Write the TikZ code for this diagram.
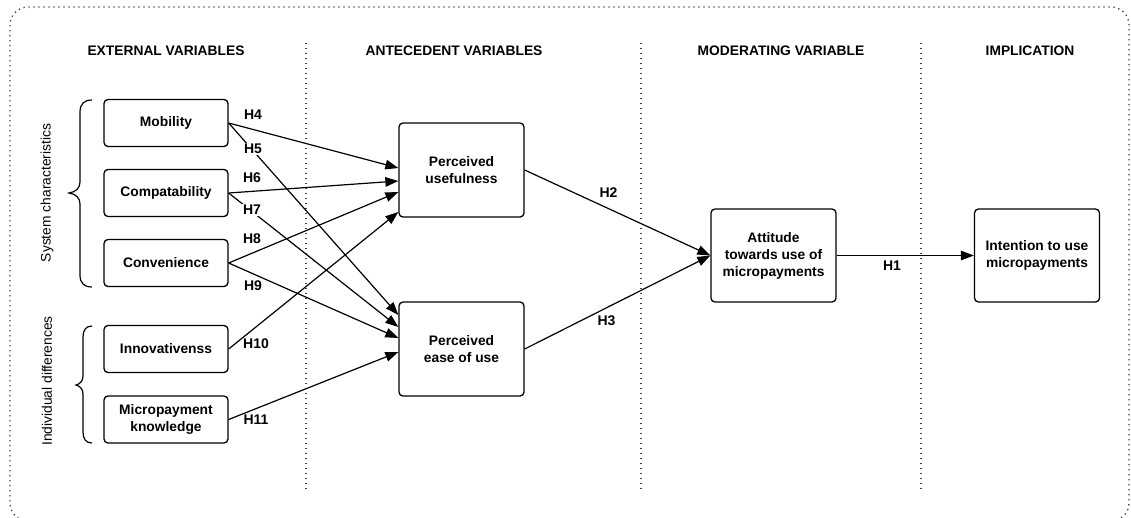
\documentclass[tikz,border=0pt]{standalone}
\usepackage{fontspec}
\setmainfont{Liberation Sans}
\usetikzlibrary{arrows.meta}
\begin{document}
\begin{tikzpicture}[x=1pt,y=-1pt,
  varbox/.style={draw, line width=1.3pt, rounded corners=4pt, align=center,
    inner sep=0pt, font=\bfseries\fontsize{13.8}{17}\selectfont},
  smallbox/.style={varbox, minimum width=124pt, minimum height=47pt},
  bigbox/.style={varbox, minimum width=125pt, minimum height=94pt},
  header/.style={font=\bfseries\fontsize{13.8}{15}\selectfont, inner sep=0pt},
  hyp/.style={font=\bfseries\fontsize{14}{15}\selectfont, inner sep=1pt},
  group/.style={font=\fontsize{13.8}{15}\selectfont, rotate=90, inner sep=0pt},
  link/.style={line width=1.2pt, -{Triangle[length=13pt,width=9.5pt]}},
  divider/.style={line width=1.3pt, black!75, dash pattern=on 1.3pt off 3.7pt},
  brace/.style={line width=1.2pt}]
\clip (0,0) rectangle (1131,517);

% outer frame and column dividers
\draw[divider, rounded corners=18pt] (10,7) rectangle (1129,521);
\draw[divider] (306,43) -- (306,492);
\draw[divider] (641,43) -- (641,492);
\draw[divider] (921,43) -- (921,492);

% column headers
\node[header] (hext) at (166,51) {EXTERNAL VARIABLES};
\node[header] (hant) at (454,51) {ANTECEDENT VARIABLES};
\node[header] (hmod) at (781,51) {MODERATING VARIABLE};
\node[header] (himp) at (1030,51) {IMPLICATION};

% external variables
\node[smallbox] (mob)   at (166,123)   {Mobility};
\node[smallbox] (comp)  at (166,193)   {Compatability};
\node[smallbox] (conv)  at (166,263)   {Convenience};
\node[smallbox] (innov) at (166,349)   {Innovativenss};
\node[smallbox] (know)  at (166,419.5) {Micropayment\\knowledge};

% antecedent, moderating and implication variables
\node[bigbox] (pu)   at (461.5,170)   {Perceived\\usefulness};
\node[bigbox] (peou) at (461.5,349)   {Perceived\\ease of use};
\node[bigbox, minimum height=93pt] (att) at (773.5,255.5) {Attitude\\towards use of\\micropayments};
\node[bigbox, minimum height=93pt] (int) at (1037,255.5) {Intention to use\\micropayments};

% groups of external variables
\draw[brace] (92,100) .. controls (84,100) and (80,104) .. (80,112) -- (80,182)
  .. controls (80,188) and (76,192) .. (69,193)
  .. controls (76,194) and (80,198) .. (80,204) -- (80,275)
  .. controls (80,283) and (84,287) .. (92,287);
\draw[brace] (92,326) .. controls (86,326) and (83,330) .. (83,337) -- (83,376)
  .. controls (83,381) and (80,384) .. (76,385)
  .. controls (80,386) and (83,389) .. (83,394) -- (83,432)
  .. controls (83,439) and (86,443) .. (92,443);
\node[group] (gsys) at (47,193) {System characteristics};
\node[group] (gind) at (47,381) {Individual differences};

% hypothesised paths
\draw[link] (mob.east)   -- ([yshift=2pt]pu.west);
\draw[link] (comp.east)  -- ([yshift=-11pt]pu.west);
\draw[link] (conv.east)  -- ([yshift=-22pt]pu.west);
\draw[link] (innov.east) -- ([yshift=-42pt]pu.west);
\draw[link] (mob.east)   -- ([yshift=34pt]peou.west);
\draw[link] (comp.east)  -- ([yshift=22pt]peou.west);
\draw[link] (conv.east)  -- ([yshift=11pt]peou.west);
\draw[link] (know.east)  -- ([yshift=-3pt]peou.west);
\draw[link] (pu.east)    -- (att.west);
\draw[link] (peou.east)  -- (att.west);
\draw[link] (att.east)   -- (int.west);

% hypothesis labels
\node[hyp] (h4)  at (253,115)   {H4};
\node[hyp, fill=white] (h5)  at (253,149)   {H5};
\node[hyp] (h6)  at (252,178)   {H6};
\node[hyp, fill=white] (h7)  at (252,210)   {H7};
\node[hyp] (h8)  at (252,239)   {H8};
\node[hyp] (h9)  at (253,286)   {H9};
\node[hyp] (h10) at (256,343.5) {H10};
\node[hyp] (h11) at (256,419.5) {H11};
\node[hyp] (h2)  at (608.5,193) {H2};
\node[hyp] (h3)  at (606.5,321) {H3};
\node[hyp] (h1)  at (892,265.5) {H1};
\end{tikzpicture}
\end{document}
